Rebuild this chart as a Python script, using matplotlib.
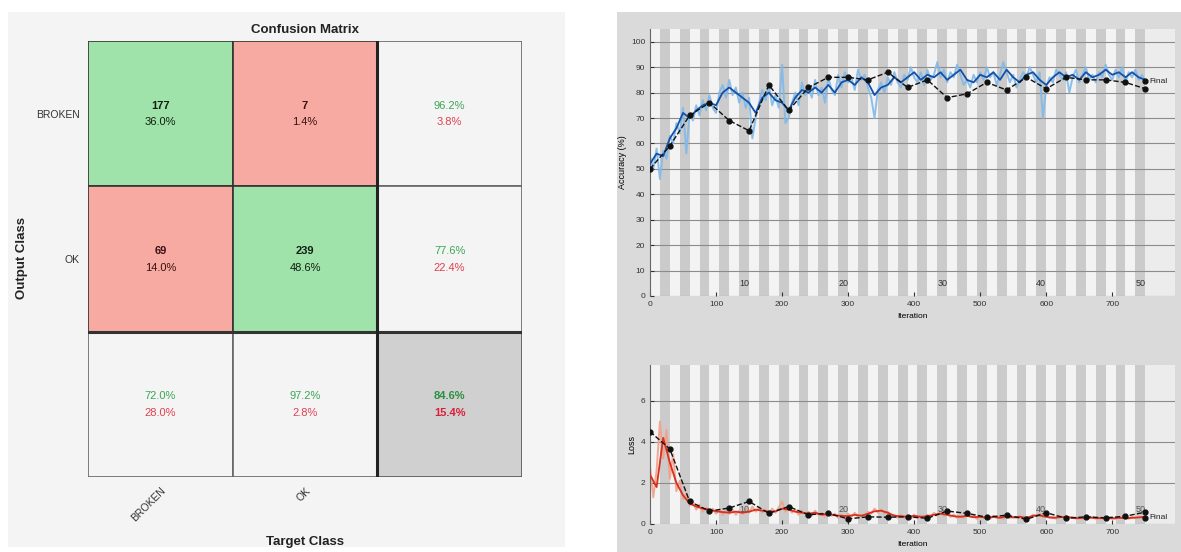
import numpy as np
import matplotlib
matplotlib.use("Agg")
import matplotlib.pyplot as plt
from matplotlib.patches import Rectangle

plt.rcParams['font.family'] = ['Liberation Sans', 'DejaVu Sans']

# Confusion matrix counts (rows = output class, cols = target class)
class_names = ["BROKEN", "OK"]
counts = np.array([[177, 7],
                   [69, 239]])

# Training progress
n_epochs = 50
iters_per_epoch = 15
raw_step = 5        # raw curves sampled every 5 iterations
smooth_step = 10    # smoothed curves every 10 iterations
val_step = 30       # validation every 2 epochs

acc_raw = [55, 50, 58, 46, 57, 54, 63, 60, 68, 64, 74, 56, 72, 69, 75, 71, 77, 73, 79, 74,
           72, 80, 83, 78, 85, 79, 82, 76, 80, 74, 78, 62, 70, 76, 81, 77, 83, 75, 79, 74,
           91, 68, 70, 76, 80, 75, 84, 79, 82, 78, 85, 79, 82, 76, 86, 81, 79, 87, 82, 88,
           84, 86, 81, 89, 85, 87, 82, 78, 70, 81, 84, 80, 86, 83, 88, 84, 82, 87, 85, 90,
           86, 84, 88, 83, 89, 85, 87, 92, 86, 89, 84, 88, 86, 91, 87, 83, 85, 82, 87, 84,
           88, 85, 90, 86, 88, 83, 87, 92, 88, 84, 87, 82, 85, 88, 86, 90, 87, 84, 88, 70,
           82, 86, 84, 89, 87, 85, 88, 80, 86, 89, 84, 87, 90, 85, 87, 84, 88, 86, 91, 87,
           85, 89, 86, 90, 84, 88, 86, 89, 85, 87, 84]
acc_smooth = [52, 56, 55, 62, 66, 72, 70, 73, 75, 76, 75, 80, 82, 80, 78, 76, 72, 78, 80, 77,
              76, 73, 78, 81, 80, 82, 80, 83, 80, 84, 85, 83, 86, 84, 79, 82, 83, 86, 84, 86,
              88, 85, 87, 86, 88, 85, 87, 89, 85, 84, 87, 86, 88, 85, 89, 86, 84, 87, 88, 85,
              83, 86, 88, 86, 87, 85, 88, 86, 87, 89, 87, 88, 86, 88, 86, 85]
acc_val = [50, 59, 71, 76, 69, 65, 83, 73, 82, 86, 86, 85, 88, 82, 85, 78, 79.5, 84, 81,
           86, 81.5, 86, 85, 85, 84, 81.5]
acc_final = 84.5

loss_raw = [2.8, 1.3, 2.6, 5.0, 3.2, 4.6, 2.2, 3.4, 1.6, 2.1, 1.2, 1.5, 0.9, 1.1, 0.7, 0.95,
            0.6, 0.8, 0.55, 0.75, 0.5, 0.7, 0.45, 0.65, 0.5, 0.7, 0.45, 0.65, 0.5, 0.75, 0.55,
            0.85, 0.6, 0.8, 0.55, 0.7, 0.5, 0.75, 0.55, 0.8, 1.1, 0.6, 0.85, 0.55, 0.7, 0.45,
            0.65, 0.5, 0.6, 0.4, 0.65, 0.45, 0.55, 0.35, 0.6, 0.4, 0.5, 0.3, 0.45, 0.3, 0.5,
            0.35, 0.55, 0.35, 0.45, 0.4, 0.6, 0.5, 0.75, 0.55, 0.7, 0.5, 0.6, 0.4, 0.45, 0.3,
            0.45, 0.3, 0.4, 0.25, 0.45, 0.3, 0.4, 0.3, 0.45, 0.35, 0.55, 0.4, 0.6, 0.4, 0.5,
            0.35, 0.45, 0.3, 0.4, 0.3, 0.45, 0.35, 0.4, 0.25, 0.4, 0.3, 0.35, 0.25, 0.4, 0.3,
            0.35, 0.25, 0.45, 0.3, 0.35, 0.3, 0.4, 0.25, 0.35, 0.3, 0.45, 0.4, 0.5, 0.35, 0.4,
            0.3, 0.35, 0.25, 0.4, 0.3, 0.4, 0.3, 0.35, 0.25, 0.3, 0.25, 0.35, 0.3, 0.35, 0.25,
            0.3, 0.25, 0.35, 0.3, 0.3, 0.25, 0.35, 0.3, 0.3, 0.25, 0.35, 0.3, 0.35, 0.3, 0.4]
loss_smooth = [2.4, 1.8, 4.2, 3.0, 2.0, 1.4, 1.0, 0.85, 0.75, 0.7, 0.62, 0.58, 0.55, 0.6, 0.55,
               0.6, 0.7, 0.65, 0.6, 0.62, 0.75, 0.7, 0.6, 0.55, 0.5, 0.55, 0.45, 0.5, 0.42, 0.4,
               0.38, 0.45, 0.4, 0.5, 0.62, 0.65, 0.55, 0.4, 0.38, 0.35, 0.4, 0.35, 0.38, 0.45,
               0.5, 0.45, 0.38, 0.35, 0.4, 0.33, 0.35, 0.3, 0.35, 0.3, 0.38, 0.32, 0.35, 0.3,
               0.4, 0.42, 0.35, 0.3, 0.33, 0.35, 0.3, 0.28, 0.32, 0.3, 0.28, 0.3, 0.27, 0.3,
               0.28, 0.3, 0.32, 0.35]
loss_val = [4.5, 3.66, 1.1, 0.63, 0.78, 1.1, 0.52, 0.85, 0.45, 0.52, 0.25, 0.35, 0.33, 0.35,
            0.28, 0.63, 0.52, 0.33, 0.43, 0.23, 0.55, 0.28, 0.35, 0.3, 0.38, 0.58]
loss_final = 0.3

W, H = 1181, 552
fig = plt.figure(figsize=(W / 100, H / 100), dpi=100)

# panel backgrounds, kept behind the axes
fig.patches.append(Rectangle((8 / W, 1 - 547 / H), 557 / W, 535 / H, transform=fig.transFigure,
                             facecolor='#f4f4f4', edgecolor='none', zorder=-10))
fig.patches.append(Rectangle((617 / W, 0), 564 / W, 540 / H, transform=fig.transFigure,
                             facecolor='#dadada', edgecolor='none', zorder=-10))

# ---------------- confusion matrix ----------------
ax = fig.add_axes([88 / W, 1 - 477 / H, 434 / W, 436 / H])
ax.patch.set_alpha(0)
ax.set_xlim(0, 3)
ax.set_ylim(3, 0)
for s in ax.spines.values():
    s.set_visible(False)

total = counts.sum()
green, red = '#a0e3aa', '#f7aaa2'
for r in range(2):
    for c in range(2):
        fc = green if r == c else red
        ax.add_patch(Rectangle((c, r), 1, 1, facecolor=fc, edgecolor='#333333', lw=1.2))
        tc = '#102010' if r == c else '#3a1010'
        ax.text(c + 0.5, r + 0.445, str(counts[r, c]), ha='center', va='center',
                fontsize=8, fontweight='bold', color=tc)
        ax.text(c + 0.5, r + 0.56, f"{100 * counts[r, c] / total:.1f}%", ha='center',
                va='center', fontsize=8, color=tc)

pos_green, pos_red = '#3aa655', '#e0404f'
# row summaries (precision)
for r in range(2):
    p = 100 * counts[r, r] / counts[r].sum()
    ax.add_patch(Rectangle((2, r), 1, 1, facecolor='#f4f4f4', edgecolor='#666666', lw=1.2))
    ax.text(2.5, r + 0.445, f"{p:.1f}%", ha='center', va='center', fontsize=8, color=pos_green)
    ax.text(2.5, r + 0.56, f"{100 - p:.1f}%", ha='center', va='center', fontsize=8, color=pos_red)
# column summaries (recall)
for c in range(2):
    p = 100 * counts[c, c] / counts[:, c].sum()
    ax.add_patch(Rectangle((c, 2), 1, 1, facecolor='#f4f4f4', edgecolor='#666666', lw=1.2))
    ax.text(c + 0.5, 2.445, f"{p:.1f}%", ha='center', va='center', fontsize=8, color=pos_green)
    ax.text(c + 0.5, 2.56, f"{100 - p:.1f}%", ha='center', va='center', fontsize=8, color=pos_red)
# overall accuracy
acc = 100 * np.trace(counts) / total
ax.add_patch(Rectangle((2, 2), 1, 1, facecolor='#d0d0d0', edgecolor='#555555', lw=1.2))
ax.text(2.5, 2.445, f"{acc:.1f}%", ha='center', va='center', fontsize=8,
        fontweight='bold', color='#2a9040')
ax.text(2.5, 2.56, f"{100 - acc:.1f}%", ha='center', va='center', fontsize=8,
        fontweight='bold', color='#d8203a')
ax.axhline(2, 0, 1, color='#333333', lw=2.2)
ax.axvline(2, 0, 1, color='#222222', lw=2.2)

ax.set_yticks([0.5, 1.5])
ax.set_yticklabels(class_names, fontsize=7.5, color='#333333')
ax.set_xticks([0.5, 1.5])
ax.set_xticklabels(class_names, fontsize=7.5, color='#333333', rotation=45,
                   ha='right', rotation_mode='anchor')
ax.tick_params(length=0, pad=6)

fig.text(305 / W, 1 - 30 / H, "Confusion Matrix", ha='center', va='center',
         fontsize=9.5, fontweight='bold', color='#222222')
fig.text(22 / W, 1 - 258 / H, "Output Class", ha='center', va='center', rotation=90,
         fontsize=9.5, fontweight='bold', color='#222222')
fig.text(305 / W, 1 - 542 / H, "Target Class", ha='center', va='center',
         fontsize=9.5, fontweight='bold', color='#222222')

# ---------------- training progress ----------------
x_end = n_epochs * iters_per_epoch


def style_progress(a, ymax, yticks):
    a.set_facecolor('#ececec')
    for e in range(n_epochs):
        col = '#f3f3f3' if e % 2 == 0 else '#cbcbcb'
        a.axvspan(e * iters_per_epoch, (e + 1) * iters_per_epoch, color=col, lw=0, zorder=0)
    a.set_xlim(0, 795)
    a.set_ylim(0, ymax)
    a.set_yticks(yticks)
    a.set_xticks(range(0, 701, 100))
    a.grid(axis='y', color='#8c8c8c', lw=0.8, zorder=1)
    a.set_axisbelow(True)
    for side in ('top', 'right', 'bottom'):
        a.spines[side].set_visible(False)
    a.spines['left'].set_color('#666666')
    a.tick_params(labelsize=6, colors='#333333', length=3, direction='in')
    a.set_xlabel("Iteration", fontsize=6, labelpad=4)


ax_acc = fig.add_axes([650 / W, 1 - 296 / H, 525 / W, 267 / H])
style_progress(ax_acc, 105, range(0, 101, 10))
it_raw = np.arange(len(acc_raw)) * raw_step
it_smooth = np.arange(len(acc_smooth)) * smooth_step
it_val = np.arange(len(acc_val)) * val_step
ax_acc.plot(it_raw, acc_raw, color='#80b9e8', lw=1.4, alpha=0.9, zorder=2)
ax_acc.plot(it_smooth, acc_smooth, color='#1450a8', lw=1.3, zorder=3)
ax_acc.plot(it_val, acc_val, '--', color='#111111', lw=1.0, marker='o', ms=3.5, zorder=4)
ax_acc.plot([x_end], [acc_final], 'o', color='#111111', ms=3.5, zorder=5)
ax_acc.text(x_end + 6, acc_final, "Final", fontsize=6, va='center', color='#222222')
for k in range(10, n_epochs + 1, 10):
    ax_acc.text(k * iters_per_epoch - 7.5, 5, str(k), fontsize=6.5, ha='center',
                va='center', color='#333333', zorder=3)
ax_acc.set_ylabel("Accuracy (%)", fontsize=6.5, labelpad=3)

ax_loss = fig.add_axes([650 / W, 1 - 524 / H, 525 / W, 159 / H])
style_progress(ax_loss, 7.75, [0, 2, 4, 6])
ax_loss.plot(it_raw, loss_raw, color='#f2a08a', lw=1.4, alpha=0.9, zorder=2)
ax_loss.plot(it_smooth, loss_smooth, color='#d7301f', lw=1.3, zorder=3)
ax_loss.plot(it_val, loss_val, '--', color='#111111', lw=1.0, marker='o', ms=3.5, zorder=4)
ax_loss.plot([x_end], [loss_final], 'o', color='#111111', ms=3.5, zorder=5)
ax_loss.text(x_end + 6, loss_final, "Final", fontsize=6, va='center', color='#222222')
for k in range(10, n_epochs + 1, 10):
    ax_loss.text(k * iters_per_epoch - 7.5, 0.7, str(k), fontsize=6.5, ha='center',
                 va='center', color='#555555', zorder=3)
ax_loss.set_ylabel("Loss", fontsize=6.5, labelpad=3)

fig.savefig("out.png", dpi=100)
